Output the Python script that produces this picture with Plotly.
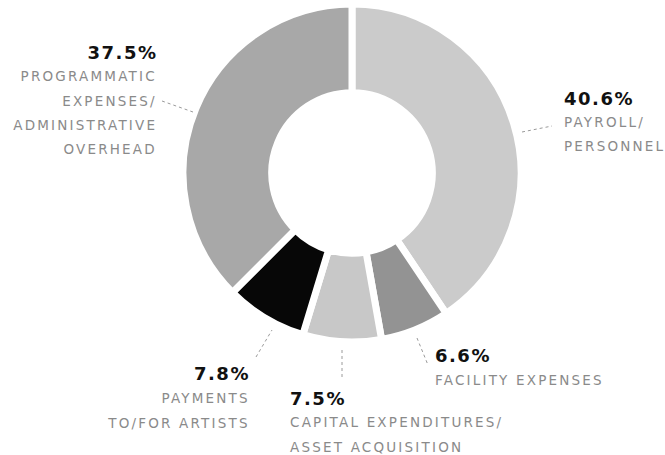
import plotly.graph_objects as go

# Budget allocation by category (percent of total)
categories = [
    "Payroll/Personnel",
    "Facility Expenses",
    "Capital Expenditures/Asset Acquisition",
    "Payments to/for Artists",
    "Programmatic Expenses/Administrative Overhead",
]
shares = [40.6, 6.6, 7.5, 7.8, 37.5]
label_lines = [
    ["PAYROLL/", "PERSONNEL"],
    ["FACILITY EXPENSES"],
    ["CAPITAL EXPENDITURES/", "ASSET ACQUISITION"],
    ["PAYMENTS", "TO/FOR ARTISTS"],
    ["PROGRAMMATIC", "EXPENSES/", "ADMINISTRATIVE", "OVERHEAD"],
]
slice_colors = ["#cbcbcb", "#939393", "#c8c8c8", "#070707", "#a8a8a8"]

W, H = 665, 455


def px(x):
    return x / W


def py(y):
    return 1 - y / H


# Ring geometry in pixels (centre, outer radius, white separator width)
cx, cy, r_out, gap = 352, 173, 169, 7
hole = 0.475

# Callout layout per slice: text side, text x, percent y, first label line y,
# line step, leader line endpoints
callouts = [
    dict(side="left", x=562, py=98, ly=122, leader=(522, 132, 552, 126)),
    dict(side="left", x=433, py=355, ly=380, leader=(417, 338, 428, 365)),
    dict(side="left", x=288, py=398, ly=422, leader=(342, 350, 342, 380)),
    dict(side="right", x=252, py=373, ly=398, leader=(256, 357, 272, 330)),
    dict(side="right", x=159, py=52, ly=76, leader=(162, 101, 193, 112)),
]
line_step = 24.5

fig = go.Figure(
    go.Pie(
        labels=categories,
        values=shares,
        sort=False,
        direction="clockwise",
        rotation=0,
        hole=hole,
        marker=dict(colors=slice_colors, line=dict(color="white", width=gap)),
        textinfo="none",
        hoverinfo="label+percent",
        showlegend=False,
        domain=dict(
            x=[px(cx - r_out), px(cx + r_out)],
            y=[py(cy + r_out), py(cy - r_out)],
        ),
    )
)

annotations = []
shapes = []
for value, lines, c in zip(shares, label_lines, callouts):
    anchor = "left" if c["side"] == "left" else "right"
    annotations.append(
        dict(
            text=f"<b>{value:.1f}%</b>",
            x=px(c["x"]), y=py(c["py"]),
            xref="paper", yref="paper",
            xanchor=anchor, yanchor="middle", align=anchor,
            showarrow=False,
            font=dict(family="DejaVu Sans", size=18, color="#111111"),
        )
    )
    for i, line in enumerate(lines):
        annotations.append(
            dict(
                text=line,
                x=px(c["x"]), y=py(c["ly"] + i * line_step),
                xref="paper", yref="paper",
                xanchor=anchor, yanchor="middle", align=anchor,
                showarrow=False,
                font=dict(family="DejaVu Sans", size=13.5, color="#8a8a8a"),
            )
        )
    x0, y0, x1, y1 = c["leader"]
    shapes.append(
        dict(
            type="line", xref="paper", yref="paper",
            x0=px(x0), y0=py(y0), x1=px(x1), y1=py(y1),
            line=dict(color="#9a9a9a", width=1, dash="dot"),
        )
    )

fig.update_layout(
    width=W, height=H,
    margin=dict(l=0, r=0, t=0, b=0),
    paper_bgcolor="white",
    plot_bgcolor="white",
    annotations=annotations,
    shapes=shapes,
)

# Wide tracking on the callout text
tracking_js = """
var gd = document.getElementById('{plot_id}');
function applyTracking() {
  gd.querySelectorAll('g.annotation text.annotation-text').forEach(function (t) {
    t.style.letterSpacing = t.textContent.indexOf('%') >= 0 ? '1.5px' : '2.2px';
  });
}
applyTracking();
gd.on('plotly_afterplot', applyTracking);
"""

fig.write_html("out.html", post_script=tracking_js)
